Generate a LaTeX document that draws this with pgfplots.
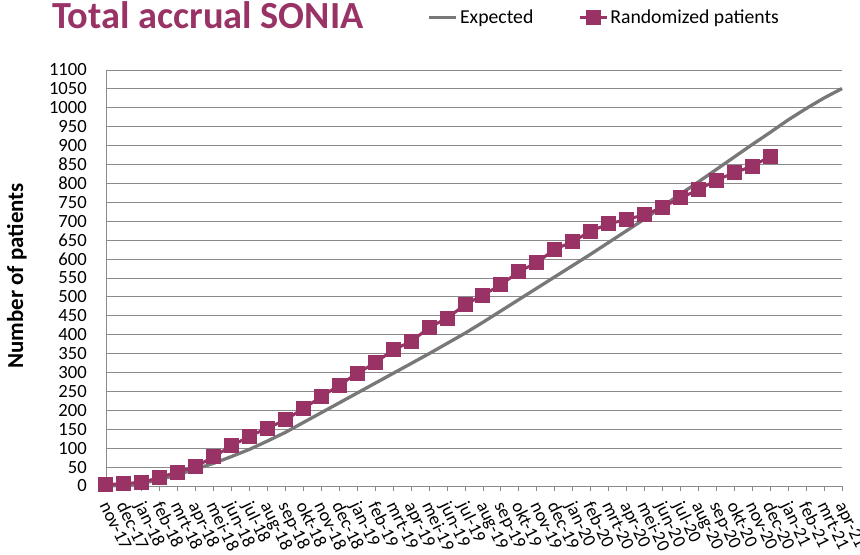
\documentclass[border=0pt]{standalone}
\usepackage{pgfplots}
\pgfplotsset{compat=1.18}
\usepackage{fontspec}
\setmainfont{Carlito}
\definecolor{plum}{RGB}{153,51,102}
\definecolor{expgray}{RGB}{120,120,120}
\definecolor{gridgray}{RGB}{138,138,138}
\begin{document}
\begin{tikzpicture}
\path[use as bounding box] (-106bp,-69bp) rectangle (754bp,486bp);
\begin{axis}[
  at={(0,0)}, anchor=south west,
  scale only axis, width=736bp, height=416bp,
  xmin=0, xmax=41, ymin=0, ymax=1100,
  clip=false,
  axis x line*=bottom, axis y line*=left,
  axis line style={draw=gridgray, line width=0.9bp},
  ytick={0,50,...,1100},
  ymajorgrids, grid style={draw=gridgray, line width=0.9bp},
  xtick={0,...,41},
  xticklabels={nov-17,dec-17,jan-18,feb-18,mrt-18,apr-18,mei-18,jun-18,jul-18,aug-18,sep-18,okt-18,nov-18,dec-18,jan-19,feb-19,mrt-19,apr-19,mei-19,jun-19,jul-19,aug-19,sep-19,okt-19,nov-19,dec-19,jan-20,feb-20,mrt-20,apr-20,mei-20,jun-20,jul-20,aug-20,sep-20,okt-20,nov-20,dec-20,jan-21,feb-21,mrt-21,apr-21},
  tick align=outside, major tick length=5bp,
  x tick style={draw=gridgray, line width=0.9bp},
  y tick style={draw=none},
  /pgf/number format/1000 sep={},
  /pgf/number format/assume math mode=true,
  yticklabel={\pgfmathprintnumber{\tick}},
  yticklabel style={font=\fontsize{18.7}{18.7}\selectfont, inner sep=0pt, anchor=east, xshift=-14bp},
  xticklabel style={font=\fontsize{18.3}{18.3}\selectfont, inner sep=0pt, anchor=north west, xshift=4bp, yshift=-9bp, rotate=-64},
  every axis y label/.style={at={(axis description cs:-0.121,0.505)}, rotate=90, anchor=center, font=\fontsize{23}{23}\selectfont\bfseries},
  ylabel={Number of patients},
  legend columns=2,
  legend image code/.code={\draw[mark repeat=2, mark phase=2, #1] plot coordinates {(0bp,0bp) (13.5bp,0bp) (27bp,0bp)};},
  legend style={draw=none, fill=none, at={(axis description cs:0.437,1.127)}, anchor=west, inner sep=0pt,
    font=\fontsize{19.8}{19.8}\selectfont, /tikz/every even column/.append style={column sep=43bp}},
]
\addplot[expgray, line width=3.3bp, no marks, line join=round] coordinates {
(0,0) (1,2) (2,7) (3,17) (4,30) (5,45) (6,60) (7,78) (8,97) (9,119) (10,142)
(11,168) (12,194) (13,220) (14,246) (15,272) (16,298) (17,324) (18,350) (19,377) (20,404)
(21,433) (22,463) (23,493) (24,523) (25,553) (26,583) (27,613) (28,644) (29,675) (30,706)
(31,739) (32,772) (33,804) (34,837) (35,870) (36,903) (37,935) (38,968) (39,998) (40,1026) (41,1051)
};
\addlegendentry{Expected}
\addplot[plum, line width=3bp, mark=square*, mark size=7bp, mark options={fill=plum, draw=plum, line width=0pt}] coordinates {
(0,3) (1,7) (2,9) (3,23) (4,37) (5,51) (6,78) (7,106) (8,132) (9,153) (10,175)
(11,205) (12,236) (13,267) (14,298) (15,326) (16,360) (17,382) (18,419) (19,444) (20,479)
(21,505) (22,532) (23,567) (24,591) (25,626) (26,646) (27,674) (28,693) (29,705) (30,717)
(31,737) (32,762) (33,783) (34,809) (35,828) (36,846) (37,871)
};
\addlegendentry{Randomized patients}
\node[anchor=base west, inner sep=0pt, font=\fontsize{38.5}{38.5}\selectfont\bfseries, text=plum] at (axis description cs:-0.0734,1.099) {Total accrual SONIA};
\end{axis}
\end{tikzpicture}
\end{document}
